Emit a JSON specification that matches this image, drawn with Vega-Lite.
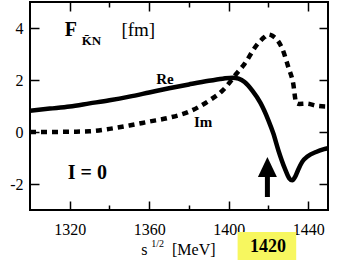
{
  "$schema": "https://vega.github.io/schema/vega-lite/v6.json",
  "width": 298,
  "height": 208,
  "autosize": "none",
  "padding": {"left": 30, "top": 2, "right": 21, "bottom": 52},
  "config": {
    "font": "Liberation Serif, Times New Roman, DejaVu Serif, serif",
    "view": {"stroke": "black", "strokeWidth": 2},
    "axis": {
      "domain": false, "grid": false, "labelFont": "Liberation Serif, Times New Roman, DejaVu Serif, serif", "labelFontSize": 16,
      "labelColor": "black", "tickColor": "black", "tickWidth": 1.5, "title": null, "labelExpr": "'' + datum.value"
    },
    "text": {"font": "Liberation Serif, Times New Roman, DejaVu Serif, serif", "color": "black"}
  },
  "datasets": {
    "re": [
      {"s": 1300, "f": 0.82}, {"s": 1310, "f": 0.9}, {"s": 1320, "f": 0.98}, {"s": 1330, "f": 1.1},
      {"s": 1340, "f": 1.22}, {"s": 1350, "f": 1.36}, {"s": 1360, "f": 1.52}, {"s": 1370, "f": 1.68},
      {"s": 1380, "f": 1.83}, {"s": 1390, "f": 1.97}, {"s": 1397, "f": 2.05}, {"s": 1402, "f": 2.09},
      {"s": 1405, "f": 2.05}, {"s": 1408, "f": 1.92}, {"s": 1412, "f": 1.58}, {"s": 1416, "f": 1.12},
      {"s": 1420, "f": 0.45}, {"s": 1422.5, "f": -0.06}, {"s": 1425, "f": -0.7}, {"s": 1428.3, "f": -1.41},
      {"s": 1430.5, "f": -1.78}, {"s": 1432, "f": -1.86}, {"s": 1433.5, "f": -1.72}, {"s": 1435, "f": -1.45},
      {"s": 1437, "f": -1.15}, {"s": 1440, "f": -0.92}, {"s": 1444, "f": -0.77}, {"s": 1448, "f": -0.66},
      {"s": 1450, "f": -0.62}
    ],
    "im": [
      {"s": 1300, "f": 0.0}, {"s": 1310, "f": 0.0}, {"s": 1320, "f": 0.01}, {"s": 1330, "f": 0.03},
      {"s": 1340, "f": 0.12}, {"s": 1350, "f": 0.25}, {"s": 1360, "f": 0.4}, {"s": 1370, "f": 0.55},
      {"s": 1380, "f": 0.78}, {"s": 1390, "f": 1.2}, {"s": 1397, "f": 1.6}, {"s": 1404, "f": 2.25},
      {"s": 1408, "f": 2.62}, {"s": 1414, "f": 3.33}, {"s": 1418, "f": 3.65}, {"s": 1420, "f": 3.75},
      {"s": 1422, "f": 3.7}, {"s": 1424, "f": 3.58}, {"s": 1427, "f": 3.2}, {"s": 1430, "f": 2.5},
      {"s": 1432.5, "f": 1.86}, {"s": 1434, "f": 1.12}, {"s": 1435.5, "f": 1.08}, {"s": 1439, "f": 1.09},
      {"s": 1445, "f": 1.0}, {"s": 1450, "f": 0.98}
    ]
  },
  "resolve": {"axis": {"x": "independent", "y": "independent"}},
  "layer": [
    {
      "mark": {"type": "rule", "color": "black", "strokeWidth": 1.2, "strokeDash": [1.5, 1.5]},
      "encoding": {"y": {"datum": 0, "type": "quantitative", "axis": null}}
    },
    {
      "data": {"name": "re"},
      "mark": {"type": "line", "color": "black", "strokeWidth": 4.5, "interpolate": "monotone", "clip": true},
      "encoding": {
        "x": {"field": "s", "type": "quantitative", "scale": {"domain": [1300, 1450], "nice": false, "zero": false},
          "axis": {"orient": "bottom", "values": [1320, 1360, 1400, 1440], "tickSize": -9, "labelPadding": 20}},
        "y": {"field": "f", "type": "quantitative", "scale": {"domain": [-3, 5], "nice": false},
          "axis": {"orient": "left", "values": [-2, 0, 2, 4], "tickSize": -9, "labelPadding": 16}}
      }
    },
    {
      "data": {"name": "im"},
      "mark": {"type": "line", "color": "black", "strokeWidth": 4.5, "strokeDash": [6, 5], "interpolate": "monotone", "clip": true},
      "encoding": {
        "x": {"field": "s", "type": "quantitative",
          "axis": {"orient": "bottom", "values": [1340, 1380, 1420], "tickSize": -5, "labels": false}},
        "y": {"field": "f", "type": "quantitative",
          "axis": {"orient": "right", "values": [-2, 0, 2, 4], "tickSize": -9, "labels": false}}
      }
    },
    {
      "data": {"values": [{"s": 1419.5, "f": -2.5, "f2": -1.7}]},
      "mark": {"type": "rule", "color": "black", "strokeWidth": 5},
      "encoding": {
        "x": {"field": "s", "type": "quantitative",
          "axis": {"orient": "top", "values": [1320, 1360, 1400, 1440], "tickSize": -9, "labels": false}},
        "y": {"field": "f", "type": "quantitative", "axis": null},
        "y2": {"field": "f2"}
      }
    },
    {
      "data": {"values": [{"s": 1419.5, "f": -1.35}]},
      "mark": {"type": "point", "filled": true, "color": "black", "opacity": 1, "size": 400, "shape": "M0,-1L0.95,1L-0.95,1Z"},
      "encoding": {
        "x": {"field": "s", "type": "quantitative",
          "axis": {"orient": "top", "values": [1340, 1380, 1420], "tickSize": -5, "labels": false}},
        "y": {"field": "f", "type": "quantitative", "axis": null}
      }
    },
    {
      "data": {"values": [{"s": 1404.5, "s2": 1434, "f": -3.85, "f2": -4.92}]},
      "mark": {"type": "rect", "color": "#f7f75f"},
      "encoding": {
        "x": {"field": "s", "type": "quantitative", "axis": null},
        "x2": {"field": "s2"},
        "y": {"field": "f", "type": "quantitative", "axis": null},
        "y2": {"field": "f2"}
      }
    },
    {
      "data": {"values": [
        {"s": 1419.75, "f": -4.62, "t": "1420"}
      ]},
      "mark": {"type": "text", "fontSize": 18, "fontWeight": "bold", "align": "center", "baseline": "alphabetic"},
      "encoding": {
        "x": {"field": "s", "type": "quantitative", "axis": null},
        "y": {"field": "f", "type": "quantitative", "axis": null},
        "text": {"field": "t"}
      }
    },
    {
      "data": {"values": [
        {"s": 1317.5, "f": 3.69, "t": "F"},
        {"s": 1319, "f": -1.8, "t": "I = 0"}
      ]},
      "mark": {"type": "text", "fontSize": 20, "fontWeight": "bold", "align": "left", "baseline": "alphabetic"},
      "encoding": {
        "x": {"field": "s", "type": "quantitative", "axis": null},
        "y": {"field": "f", "type": "quantitative", "axis": null},
        "text": {"field": "t"}
      }
    },
    {
      "data": {"values": [
        {"s": 1326, "f": 3.35, "t": "K̄N"}
      ]},
      "mark": {"type": "text", "fontSize": 13, "fontWeight": "bold", "align": "left", "baseline": "alphabetic"},
      "encoding": {
        "x": {"field": "s", "type": "quantitative", "axis": null},
        "y": {"field": "f", "type": "quantitative", "axis": null},
        "text": {"field": "t"}
      }
    },
    {
      "data": {"values": [
        {"s": 1346, "f": 3.69, "t": "[fm]"}
      ]},
      "mark": {"type": "text", "fontSize": 19, "align": "left", "baseline": "alphabetic"},
      "encoding": {
        "x": {"field": "s", "type": "quantitative", "axis": null},
        "y": {"field": "f", "type": "quantitative", "axis": null},
        "text": {"field": "t"}
      }
    },
    {
      "data": {"values": [
        {"s": 1363.5, "f": 1.85, "t": "Re"},
        {"s": 1382.5, "f": 0.19, "t": "Im"}
      ]},
      "mark": {"type": "text", "fontSize": 15, "fontWeight": "bold", "align": "left", "baseline": "alphabetic"},
      "encoding": {
        "x": {"field": "s", "type": "quantitative", "axis": null},
        "y": {"field": "f", "type": "quantitative", "axis": null},
        "text": {"field": "t"}
      }
    },
    {
      "data": {"values": [
        {"s": 1356, "f": -4.73, "t": "s"},
        {"s": 1371.5, "f": -4.73, "t": "[MeV]"}
      ]},
      "mark": {"type": "text", "fontSize": 16, "align": "left", "baseline": "alphabetic"},
      "encoding": {
        "x": {"field": "s", "type": "quantitative", "axis": null},
        "y": {"field": "f", "type": "quantitative", "axis": null},
        "text": {"field": "t"}
      }
    },
    {
      "data": {"values": [
        {"s": 1361, "f": -4.42, "t": "1/2"}
      ]},
      "mark": {"type": "text", "fontSize": 10, "align": "left", "baseline": "alphabetic"},
      "encoding": {
        "x": {"field": "s", "type": "quantitative", "axis": null},
        "y": {"field": "f", "type": "quantitative", "axis": null},
        "text": {"field": "t"}
      }
    }
  ]
}
